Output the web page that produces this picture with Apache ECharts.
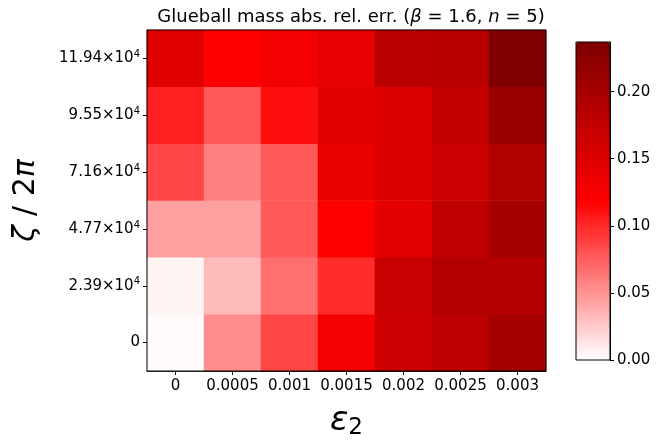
<!DOCTYPE html>
<html>
<head>
<meta charset="utf-8">
<script src="https://cdn.jsdelivr.net/npm/echarts@6/dist/echarts.min.js"></script>
<style>
  html, body { margin: 0; padding: 0; background: #fff; }
  #main { width: 657px; height: 440px; }
</style>
</head>
<body>
<div id="main"></div>
<script>
// x categories (epsilon_2)
const epsLabels = ['0', '0.0005', '0.001', '0.0015', '0.002', '0.0025', '0.003'];
// y categories (zeta / 2pi, in units of 10^4), bottom to top
const zetaLabels = ['0', '2.39', '4.77', '7.16', '9.55', '11.94'];
// abs. rel. error, one row per zeta value (bottom to top)
const row0    = [0.002, 0.053, 0.086, 0.129, 0.166, 0.180, 0.203];
const row239  = [0.005, 0.032, 0.067, 0.099, 0.169, 0.190, 0.186];
const row477  = [0.044, 0.044, 0.077, 0.119, 0.143, 0.177, 0.203];
const row716  = [0.086, 0.059, 0.077, 0.137, 0.151, 0.167, 0.192];
const row955  = [0.103, 0.077, 0.112, 0.147, 0.150, 0.173, 0.212];
const row1194 = [0.147, 0.119, 0.129, 0.142, 0.181, 0.184, 0.236];
const rows = [row0, row239, row477, row716, row955, row1194];
const cbTicks = [0, 0.05, 0.10, 0.15, 0.20];
const vmax = 0.237;

// heatmap data [x, y, value]
const cells = [];
rows.forEach(function (r, yi) {
  r.forEach(function (v, xi) { cells.push([xi, yi, v]); });
});

const font = 'DejaVu Sans';
let chart = echarts.init(document.getElementById('main'));
chart.setOption({
  animation: false,
  backgroundColor: '#fff',
  textStyle: { fontFamily: font },
  title: {
    text: 'Glueball mass abs. rel. err. ({i|β} = 1.6, {i|n} = 5)',
    left: 346, top: 3, textAlign: 'center',
    textStyle: {
      fontFamily: font, fontSize: 18, fontWeight: 'normal', color: '#000',
      rich: { i: { fontFamily: font, fontSize: 18, fontStyle: 'italic', color: '#000' } }
    }
  },
  grid: [
    { left: 147, top: 30, width: 399, height: 341, show: true, z: 10, outerBoundsMode: 'none',
      backgroundColor: 'transparent', borderColor: '#000', borderWidth: 1 },
    { left: 576, top: 42, width: 34, height: 318, show: true, z: 10, outerBoundsMode: 'none',
      backgroundColor: 'transparent', borderColor: '#000', borderWidth: 1 }
  ],
  xAxis: [
    {
      type: 'category', gridIndex: 0, data: epsLabels,
      axisLine: { show: true, lineStyle: { color: '#000' } },
      axisTick: { show: true, alignWithLabel: true, interval: 0, length: 4, lineStyle: { color: '#000' } },
      axisLabel: { color: '#000', fontSize: 15, margin: 8, interval: 0, fontFamily: font },
      splitArea: { show: false },
      name: '{e|ε}{s|2}', nameLocation: 'middle', nameGap: 32,
      nameTextStyle: {
        rich: {
          e: { fontFamily: font, fontSize: 34, fontStyle: 'italic', color: '#000' },
          s: { fontFamily: font, fontSize: 23, color: '#000', padding: [14, 0, 0, 0] }
        }
      }
    },
    { type: 'value', gridIndex: 1, show: false, min: 0, max: 1 }
  ],
  yAxis: [
    {
      type: 'category', gridIndex: 0, data: zetaLabels,
      axisLine: { show: true, lineStyle: { color: '#000' } },
      axisTick: { show: true, alignWithLabel: true, interval: 0, length: 4, lineStyle: { color: '#000' } },
      axisLabel: {
        color: '#000', fontSize: 15, margin: 7, interval: 0, fontFamily: font,
        formatter: function (v) { return v === '0' ? '0' : '{a|' + v + '×10}{s|4}'; },
        rich: {
          a: { fontFamily: font, fontSize: 15, color: '#000' },
          s: { fontFamily: font, fontSize: 10, color: '#000', padding: [0, 0, 8, 0] }
        }
      },
      name: '{i|ζ} / 2{i|π}', nameLocation: 'middle', nameRotate: 90, nameGap: 106,
      nameTextStyle: {
        rich: {
          i: { fontFamily: font, fontSize: 30, fontStyle: 'italic', color: '#000' }
        },
        fontFamily: font, fontSize: 30, color: '#000'
      }
    },
    {
      type: 'value', gridIndex: 1, position: 'right', min: 0, max: vmax,
      axisLine: { show: true, onZero: false, lineStyle: { color: '#000' } },
      splitLine: { show: false },
      axisTick: { show: true, length: 4, customValues: cbTicks, lineStyle: { color: '#000' } },
      axisLabel: {
        color: '#000', fontSize: 15, margin: 7, fontFamily: font, customValues: cbTicks,
        formatter: function (v) { return v.toFixed(2); }
      }
    }
  ],
  visualMap: {
    type: 'continuous', seriesIndex: 0, min: 0, max: vmax,
    calculable: false, orient: 'vertical', z: 1,
    left: 576, top: 42, itemWidth: 34, itemHeight: 318, padding: 0,
    text: null,
    inRange: { color: ['#ffffff', '#ff0000', '#7f0000'] }
  },
  series: [
    {
      type: 'heatmap', xAxisIndex: 0, yAxisIndex: 0, data: cells,
      itemStyle: { borderWidth: 0 },
      emphasis: { disabled: true }
    },
    { type: 'line', xAxisIndex: 1, yAxisIndex: 1, data: [], silent: true }
  ]
});
</script>
</body>
</html>
